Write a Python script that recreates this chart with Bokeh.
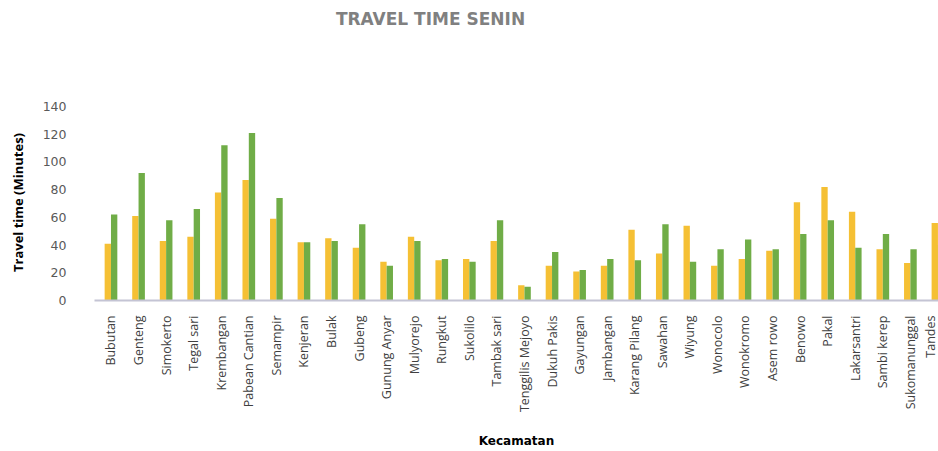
import math
from bokeh.plotting import figure
from bokeh.layouts import column
from bokeh.models import Range1d, FixedTicker, ColumnDataSource
from bokeh.core.properties import value
from bokeh.transform import dodge
from bokeh.embed import file_html
from bokeh.resources import INLINE

kecamatan = ["Bubutan", "Genteng", "Simokerto", "Tegal sari", "Krembangan", "Pabean Cantian",
             "Semampir", "Kenjeran", "Bulak", "Gubeng", "Gunung Anyar", "Mulyorejo", "Rungkut",
             "Sukolilo", "Tambak sari", "Tenggilis Mejoyo", "Dukuh Pakis", "Gayungan", "Jambangan",
             "Karang Pilang", "Sawahan", "Wiyung", "Wonocolo", "Wonokromo", "Asem rowo", "Benowo",
             "Pakal", "Lakarsantri", "Sambi kerep", "Sukomanunggal", "Tandes"]
series_yellow = [41, 61, 43, 46, 78, 87, 59, 42, 45, 38, 28, 46, 29, 30, 43, 11, 25, 21, 25,
                 51, 34, 54, 25, 30, 36, 71, 82, 64, 37, 27, 56]
series_green = [62, 92, 58, 66, 112, 121, 74, 42, 43, 55, 25, 43, 30, 28, 58, 10, 35, 22, 30,
                 29, 55, 28, 37, 44, 37, 48, 58, 38, 48, 37, 40]
y_ticks = [0, 20, 40, 60, 80, 100, 120, 140]
chart_title = "TRAVEL TIME SENIN"

positions = list(range(len(kecamatan)))
src = ColumnDataSource(dict(x=positions, yellow=series_yellow, green=series_green))

# title strip (its frame is aligned with the chart frame below)
t = figure(width=938, height=40, output_backend="svg", toolbar_location=None,
           x_range=Range1d(94, 938), y_range=Range1d(0, 40),
           x_axis_type=None, y_axis_type=None,
           min_border_left=94, min_border_right=0, min_border_top=0, min_border_bottom=0)
t.outline_line_color = None
t.xgrid.visible = False
t.ygrid.visible = False
t.text(x=[430], y=[22], text=[chart_title], text_align="center", text_baseline="middle",
       text_font=value("DejaVu Sans"), text_font_size="17px", text_font_style="bold",
       text_color="#808080")

p = figure(width=938, height=411, output_backend="svg", toolbar_location=None,
           x_range=Range1d(-0.598, 30.02), y_range=Range1d(0, 141.5),
           min_border_left=94, min_border_right=0, min_border_top=64, min_border_bottom=151)
p.outline_line_color = None
p.xgrid.visible = False
p.ygrid.visible = False

p.vbar(x=dodge('x', -0.115), top='yellow', width=0.23, source=src,
       fill_color="#F5C034", line_color=None)
p.vbar(x=dodge('x', 0.115), top='green', width=0.23, source=src,
       fill_color="#70AD47", line_color=None)

p.yaxis.ticker = FixedTicker(ticks=y_ticks)
p.yaxis.axis_line_color = None
p.yaxis.major_tick_line_color = None
p.yaxis.minor_tick_line_color = None
p.yaxis.major_label_text_color = "#595959"
p.yaxis.major_label_text_font = "DejaVu Sans"
p.yaxis.major_label_text_font_size = "12.5px"
p.yaxis.major_label_standoff = 22
p.yaxis.axis_label = "Travel time (Minutes)"
p.yaxis.axis_label_text_font = "Open Sans"
p.yaxis.axis_label_text_font_size = "13px"
p.yaxis.axis_label_text_font_style = "bold"
p.yaxis.axis_label_text_color = "#000000"
p.yaxis.axis_label_standoff = 13

p.xaxis.ticker = FixedTicker(ticks=positions)
p.xaxis.major_label_overrides = {i: name for i, name in enumerate(kecamatan)}
p.xaxis.major_label_orientation = math.pi / 2
p.xaxis.axis_line_color = "#C4C4D4"
p.xaxis.axis_line_width = 2
p.xaxis.major_tick_line_color = None
p.xaxis.minor_tick_line_color = None
p.xaxis.major_label_text_font = "Open Sans"
p.xaxis.major_label_text_font_size = "12.5px"
p.xaxis.major_label_text_color = "#404040"
p.xaxis.major_label_standoff = 9
p.xaxis.axis_label = "Kecamatan"
p.xaxis.axis_label_text_font = "DejaVu Sans"
p.xaxis.axis_label_text_font_size = "12px"
p.xaxis.axis_label_text_font_style = "bold"
p.xaxis.axis_label_text_color = "#000000"
p.xaxis.axis_label_standoff = 19

layout = column(t, p, spacing=0)
open("out.html", "w").write(file_html(layout, INLINE))
